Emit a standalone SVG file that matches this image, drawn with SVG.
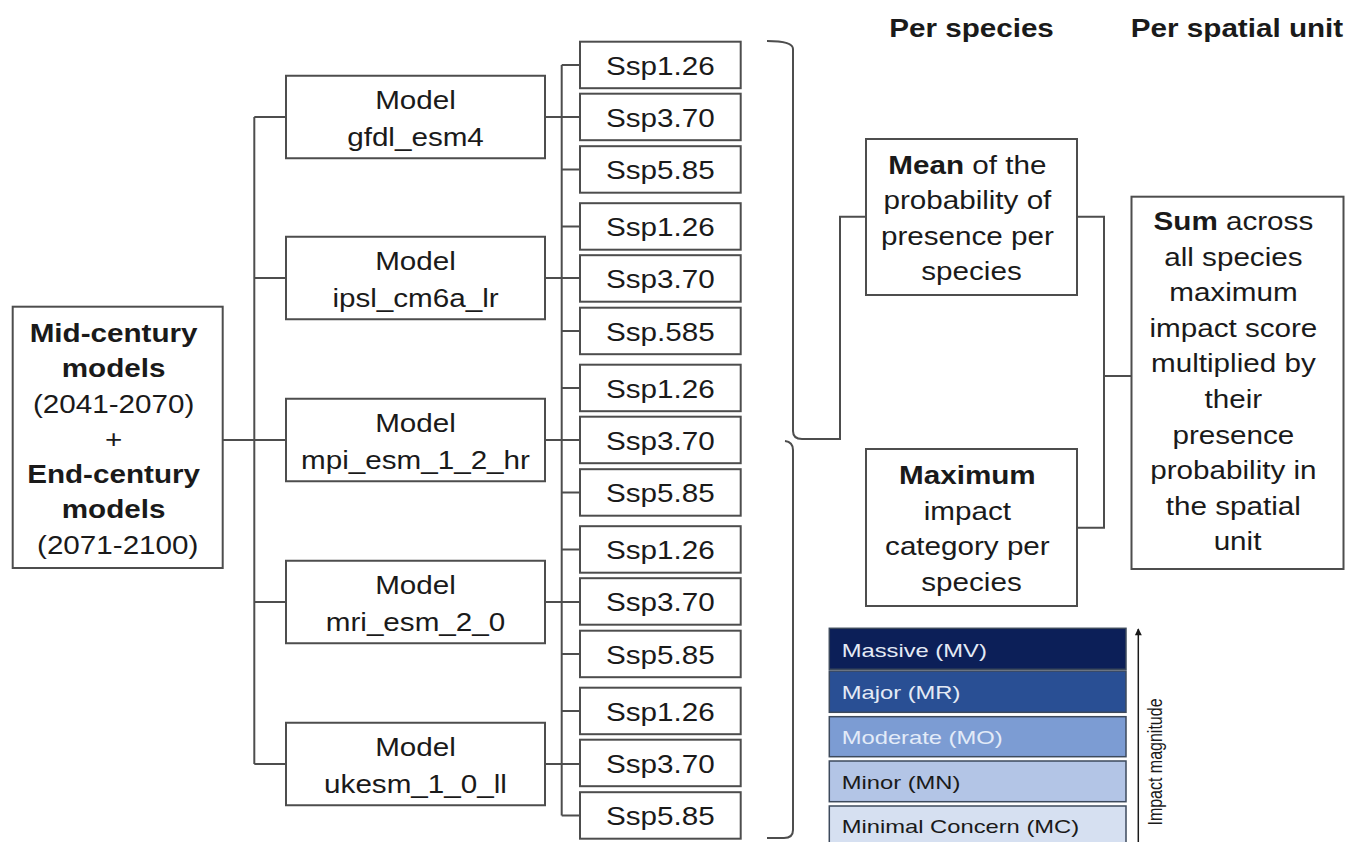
<svg xmlns="http://www.w3.org/2000/svg" width="1348" height="842" viewBox="0 0 1348 842">
<defs>
<style>
.box{fill:#fff;stroke:#4d4d4d;stroke-width:2}
.ln{fill:none;stroke:#4d4d4d;stroke-width:2}
.t{font-family:"Liberation Sans",Arial,sans-serif;font-size:26px;fill:#1a1a1a;text-anchor:middle}
.b{font-weight:bold}
.lg{font-family:"Liberation Sans",Arial,sans-serif;font-size:19px}
.bar{stroke:#3d4a5c;stroke-width:1.5}
</style>
<marker id="ah" viewBox="0 0 10 10" refX="9" refY="5" markerWidth="10" markerHeight="7" orient="auto" markerUnits="userSpaceOnUse">
<path d="M0,0 L10,5 L0,10 Z" fill="#1a1a1a"/>
</marker>
</defs>
<rect width="1348" height="842" fill="#fff"/>

<g id="connectors">
<path class="ln" d="M222.7,440 H286"/>
<path class="ln" d="M254.3,117 V764"/>
<path class="ln" d="M254.3,117 H286 M254.3,278 H286 M254.3,602 H286 M254.3,764 H286"/>
<path class="ln" d="M545,117 H580 M545,278 H580 M545,440 H580 M545,602 H580 M545,764 H580"/>
<path class="ln" d="M561.7,64.95 V815.45"/>
<path class="ln" d="M561.7,64.95 H580 M561.7,169.45 H580 M561.7,226.45 H580 M561.7,330.95 H580 M561.7,387.95 H580 M561.7,492.45 H580 M561.7,549.45 H580 M561.7,653.95 H580 M561.7,710.95 H580 M561.7,815.45 H580"/>
<path class="ln" d="M767,41 Q793,41 793,49 L793,431 Q793,439 802,439 L840,439 L840,216.7 L866,216.7"/>
<path class="ln" d="M785,441 Q793,442 793,450 L793,830 Q793,838 784,838 L767,838"/>
<path class="ln" d="M1077,216.7 H1104 V527.7 H1077 M1104,376 H1131.5"/>
</g>

<g id="n-source">
<rect class="box" x="12.7" y="306.7" width="210" height="261.3"/>
<text class="t" transform="translate(117.7,0) scale(1.14,1)">
<tspan class="b" x="0" y="342">Mid-century</tspan>
<tspan class="b" x="0" y="377.3">models</tspan>
<tspan x="0" y="412.6">(2041-2070)</tspan>
<tspan x="0" y="447.9">+</tspan>
<tspan class="b" x="0" y="483.2">End-century</tspan>
<tspan class="b" x="0" y="518.5">models</tspan>
<tspan x="0" y="553.8">(2071-2100)</tspan>
</text>
</g>

<g id="m-gfdl">
<rect class="box" x="286" y="75.75" width="259" height="82.5"/>
<text class="t" transform="translate(415.5,0) scale(1.14,1)"><tspan x="0" y="109.5">Model</tspan><tspan x="0" y="145.8">gfdl_esm4</tspan></text>
</g>
<g id="m-ipsl">
<rect class="box" x="286" y="236.75" width="259" height="82.5"/>
<text class="t" transform="translate(415.5,0) scale(1.14,1)"><tspan x="0" y="270.5">Model</tspan><tspan x="0" y="306.8">ipsl_cm6a_lr</tspan></text>
</g>
<g id="m-mpi">
<rect class="box" x="286" y="398.75" width="259" height="82.5"/>
<text class="t" transform="translate(415.5,0) scale(1.14,1)"><tspan x="0" y="432.5">Model</tspan><tspan x="0" y="468.8">mpi_esm_1_2_hr</tspan></text>
</g>
<g id="m-mri">
<rect class="box" x="286" y="560.75" width="259" height="82.5"/>
<text class="t" transform="translate(415.5,0) scale(1.14,1)"><tspan x="0" y="594.5">Model</tspan><tspan x="0" y="630.8">mri_esm_2_0</tspan></text>
</g>
<g id="m-ukesm">
<rect class="box" x="286" y="722.75" width="259" height="82.5"/>
<text class="t" transform="translate(415.5,0) scale(1.14,1)"><tspan x="0" y="756.5">Model</tspan><tspan x="0" y="792.8">ukesm_1_0_ll</tspan></text>
</g>

<g id="s-1"><rect class="box" x="580" y="41.7" width="160.7" height="46.5"/><text class="t" transform="translate(660.3,74.7) scale(1.14,1)">Ssp1.26</text></g>
<g id="s-2"><rect class="box" x="580" y="93.7" width="160.7" height="46.5"/><text class="t" transform="translate(660.3,126.7) scale(1.14,1)">Ssp3.70</text></g>
<g id="s-3"><rect class="box" x="580" y="146.2" width="160.7" height="46.5"/><text class="t" transform="translate(660.3,179.2) scale(1.14,1)">Ssp5.85</text></g>
<g id="s-4"><rect class="box" x="580" y="203.2" width="160.7" height="46.5"/><text class="t" transform="translate(660.3,236.2) scale(1.14,1)">Ssp1.26</text></g>
<g id="s-5"><rect class="box" x="580" y="255.2" width="160.7" height="46.5"/><text class="t" transform="translate(660.3,288.2) scale(1.14,1)">Ssp3.70</text></g>
<g id="s-6"><rect class="box" x="580" y="307.7" width="160.7" height="46.5"/><text class="t" transform="translate(660.3,340.7) scale(1.14,1)">Ssp.585</text></g>
<g id="s-7"><rect class="box" x="580" y="364.7" width="160.7" height="46.5"/><text class="t" transform="translate(660.3,397.7) scale(1.14,1)">Ssp1.26</text></g>
<g id="s-8"><rect class="box" x="580" y="416.7" width="160.7" height="46.5"/><text class="t" transform="translate(660.3,449.7) scale(1.14,1)">Ssp3.70</text></g>
<g id="s-9"><rect class="box" x="580" y="469.2" width="160.7" height="46.5"/><text class="t" transform="translate(660.3,502.2) scale(1.14,1)">Ssp5.85</text></g>
<g id="s-10"><rect class="box" x="580" y="526.2" width="160.7" height="46.5"/><text class="t" transform="translate(660.3,559.2) scale(1.14,1)">Ssp1.26</text></g>
<g id="s-11"><rect class="box" x="580" y="578.2" width="160.7" height="46.5"/><text class="t" transform="translate(660.3,611.2) scale(1.14,1)">Ssp3.70</text></g>
<g id="s-12"><rect class="box" x="580" y="630.7" width="160.7" height="46.5"/><text class="t" transform="translate(660.3,663.7) scale(1.14,1)">Ssp5.85</text></g>
<g id="s-13"><rect class="box" x="580" y="687.7" width="160.7" height="46.5"/><text class="t" transform="translate(660.3,720.7) scale(1.14,1)">Ssp1.26</text></g>
<g id="s-14"><rect class="box" x="580" y="739.7" width="160.7" height="46.5"/><text class="t" transform="translate(660.3,772.7) scale(1.14,1)">Ssp3.70</text></g>
<g id="s-15"><rect class="box" x="580" y="792.2" width="160.7" height="46.5"/><text class="t" transform="translate(660.3,825.2) scale(1.14,1)">Ssp5.85</text></g>

<g id="headers">
<text class="t b" transform="translate(971.5,37) scale(1.14,1)">Per species</text>
<text class="t b" transform="translate(1237,37) scale(1.14,1)">Per spatial unit</text>
</g>

<g id="n-mean">
<rect class="box" x="866" y="139" width="211" height="156"/>
<text class="t" transform="translate(971.5,0) scale(1.14,1)">
<tspan x="0" y="174"><tspan class="b">Mean</tspan> of the</tspan>
<tspan x="0" y="209.5">probability of</tspan>
<tspan x="0" y="245">presence per</tspan>
<tspan x="0" y="280.5">species</tspan>
</text>
</g>

<g id="n-max">
<rect class="box" x="866" y="449" width="211" height="157"/>
<text class="t" transform="translate(971.5,0) scale(1.14,1)">
<tspan class="b" x="0" y="484.5">Maximum</tspan>
<tspan x="0" y="520">impact</tspan>
<tspan x="0" y="555.5">category per</tspan>
<tspan x="0" y="591">species</tspan>
</text>
</g>

<g id="n-sum">
<rect class="box" x="1131.5" y="196.7" width="212" height="372.3"/>
<text class="t" transform="translate(1237.5,0) scale(1.14,1)">
<tspan x="0" y="230"><tspan class="b">Sum</tspan> across</tspan>
<tspan x="0" y="265.6">all species</tspan>
<tspan x="0" y="301.2">maximum</tspan>
<tspan x="0" y="336.8">impact score</tspan>
<tspan x="0" y="372.4">multiplied by</tspan>
<tspan x="0" y="408">their</tspan>
<tspan x="0" y="443.6">presence</tspan>
<tspan x="0" y="479.2">probability in</tspan>
<tspan x="0" y="514.8">the spatial</tspan>
<tspan x="0" y="550.4">unit</tspan>
</text>
</g>

<g id="legend">
<rect class="bar" x="829.3" y="628.3" width="296.7" height="41" fill="#0c1f58"/>
<rect class="bar" x="829.3" y="671" width="296.7" height="41.3" fill="#294f94"/>
<rect class="bar" x="829.3" y="716.7" width="296.7" height="40" fill="#7c9cd3"/>
<rect class="bar" x="829.3" y="761" width="296.7" height="40.7" fill="#b3c5e6"/>
<rect class="bar" x="829.3" y="806" width="296.7" height="42" fill="#d6e0f1"/>
<text class="lg" fill="#e4eaf5" transform="translate(841.7,657) scale(1.25,1)">Massive (MV)</text>
<text class="lg" fill="#e4eaf5" transform="translate(841.7,699) scale(1.25,1)">Major (MR)</text>
<text class="lg" fill="#e3ebf8" transform="translate(841.7,744) scale(1.25,1)">Moderate (MO)</text>
<text class="lg" fill="#1a1a1a" transform="translate(841.7,789) scale(1.25,1)">Minor (MN)</text>
<text class="lg" fill="#1a1a1a" transform="translate(841.7,833) scale(1.25,1)">Minimal Concern (MC)</text>
<path d="M1138.3,842 V629" stroke="#1a1a1a" stroke-width="1.5" marker-end="url(#ah)"/>
<text font-family="'Liberation Sans',Arial,sans-serif" font-size="16" fill="#1a1a1a" text-anchor="middle" transform="translate(1161.5,762) rotate(-90) scale(1,1.3)">Impact magnitude</text>
</g>
</svg>
